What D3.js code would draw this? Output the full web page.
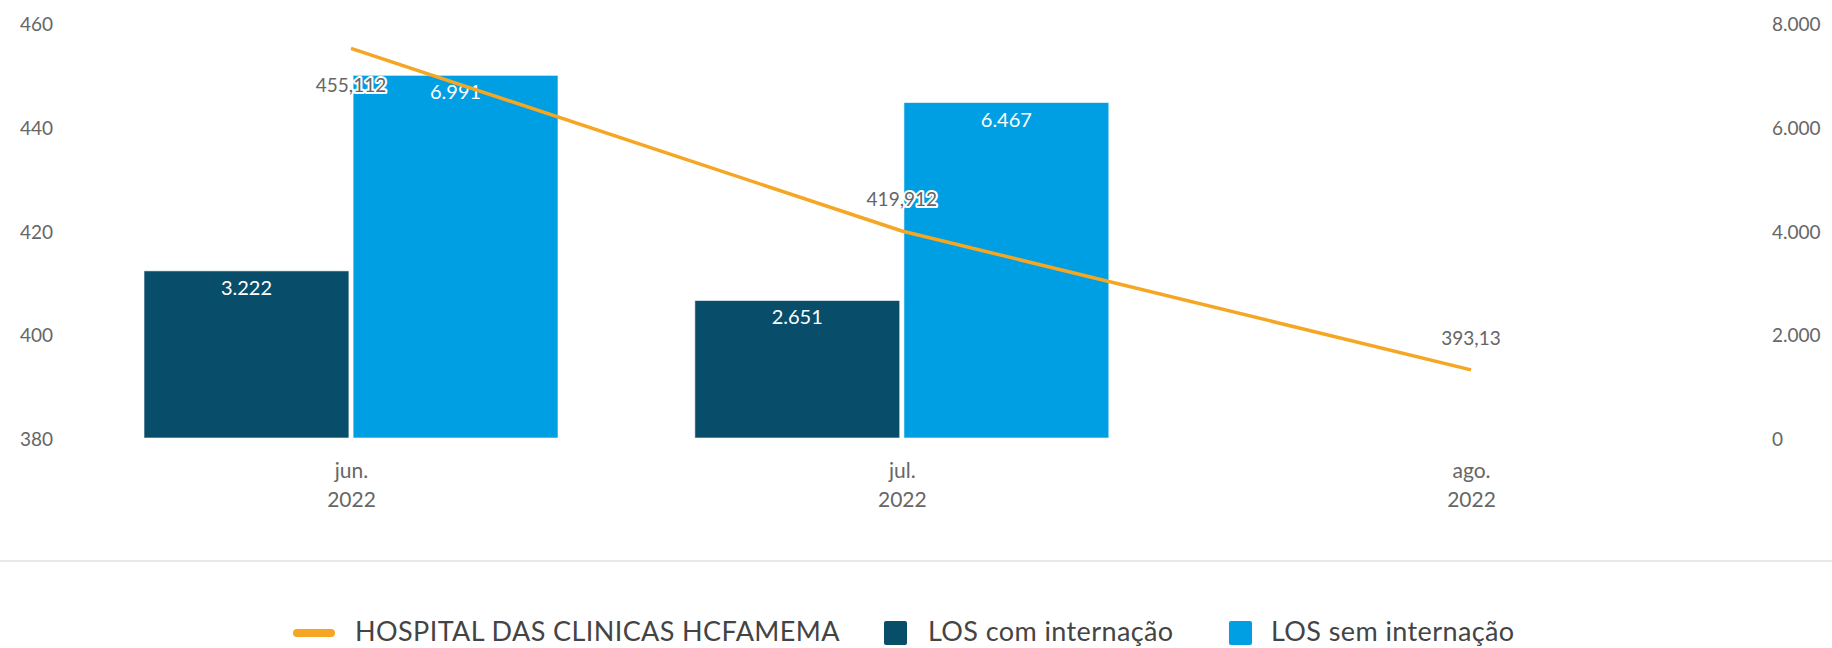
<!DOCTYPE html>
<html>
<head>
<meta charset="utf-8">
<script src="https://cdn.jsdelivr.net/npm/d3@7"></script>
<style>
  body { margin: 0; background: #fff; }
  text { font-family: Lato, "Open Sans", sans-serif; }
</style>
</head>
<body>
<svg class="combo-chart"></svg>
<script>
// months on the x axis
var months = ["2022-06-01", "2022-07-01", "2022-08-01"];
var monthLabels = ["jun.", "jul.", "ago."];
var yearLabels = ["2022", "2022", "2022"];

// line series (left axis)
var lineName = "HOSPITAL DAS CLINICAS HCFAMEMA";
var lineValues = [455.112, 419.912, 393.13];

// bar series (right axis), only jun and jul have data
var barSeries = ["LOS com internação", "LOS sem internação"];
var losCom = [3222, 2651];
var losSem = [6991, 6467];

var leftTicks = [380, 400, 420, 440, 460];
var rightTicks = [0, 2000, 4000, 6000, 8000];

var svgWidth = 1832, svgHeight = 648;
var colors = { line: "#f5a623", com: "#084e6b", sem: "#009fe3", text: "#666666" };

var parse = d3.timeParse("%Y-%m-%d");
var dates = months.map(parse);

var svg = d3.select("svg.combo-chart")
    .attr("width", svgWidth)
    .attr("height", svgHeight);

var x = d3.scaleTime().domain([dates[0], dates[2]]).range([351, 1471]),
    yLeft = d3.scaleLinear().domain([380, 460]).range([438, 23]),
    yRight = d3.scaleLinear().domain([0, 8000]).range([438, 23]);

// two bars side by side around each month
var inner = d3.scaleBand().domain(barSeries).range([-207, 207]).paddingInner(0.02);

var ptBR = d3.formatLocale({ decimal: ",", thousands: ".", grouping: [3], currency: ["R$", ""] });
var fmtInt = ptBR.format(",d");
var fmtDec = ptBR.format(",");

// left axis
var gl = svg.append("g")
    .attr("transform", "translate(53,0)")
    .call(d3.axisLeft(yLeft).tickValues(leftTicks).tickSize(0).tickPadding(0));
gl.select(".domain").remove();

// right axis
var gr = svg.append("g")
    .attr("transform", "translate(1772,0)")
    .call(d3.axisRight(yRight).tickValues(rightTicks).tickSize(0).tickPadding(0).tickFormat(fmtInt));
gr.select(".domain").remove();

svg.selectAll(".tick text")
    .attr("dy", "0.4em")
    .style("font-size", "19px")
    .style("fill", colors.text);

// x axis with two-line labels
var gx = svg.append("g")
    .attr("transform", "translate(0,438)")
    .call(d3.axisBottom(x).tickValues(dates).tickSize(0).tickFormat(""));
gx.select(".domain").remove();
gx.selectAll(".tick text").remove();
gx.selectAll(".tick").each(function (d, i) {
    var t = d3.select(this).append("text")
        .attr("text-anchor", "middle")
        .style("font-size", "21px")
        .style("fill", colors.text);
    t.append("tspan").attr("x", 0).attr("y", 40).text(monthLabels[i]);
    t.append("tspan").attr("x", 0).attr("y", 69).text(yearLabels[i]);
});

// bars
var barData = [];
losCom.forEach(function (v, i) { barData.push({ s: barSeries[0], d: dates[i], v: v, c: colors.com }); });
losSem.forEach(function (v, i) { barData.push({ s: barSeries[1], d: dates[i], v: v, c: colors.sem }); });

svg.append("g").selectAll("rect")
    .data(barData)
    .enter()
    .append("rect")
    .attr("x", function (d) { return x(d.d) + inner(d.s); })
    .attr("y", function (d) { return yRight(d.v); })
    .attr("width", inner.bandwidth())
    .attr("height", function (d) { return yRight(0) - yRight(d.v); })
    .attr("fill", function (d) { return d.c; })
    .attr("stroke", "rgba(255,255,255,0.6)")
    .attr("stroke-width", 1);

svg.append("g").selectAll("text")
    .data(barData)
    .enter()
    .append("text")
    .attr("x", function (d) { return x(d.d) + inner(d.s) + inner.bandwidth() / 2; })
    .attr("y", function (d) { return yRight(d.v) + 24; })
    .attr("text-anchor", "middle")
    .style("font-size", "20px")
    .style("fill", "#fff")
    .text(function (d) { return fmtInt(d.v); });

// line
var lineData = lineValues.map(function (v, i) { return { d: dates[i], v: v }; });

var line = d3.line()
    .x(function (d) { return x(d.d); })
    .y(function (d) { return yLeft(d.v); });

svg.append("path")
    .datum(lineData)
    .attr("d", line)
    .style("fill", "none")
    .style("stroke", colors.line)
    .style("stroke-width", 3.5);

// line labels with white halo, moved below when too close to the top
svg.append("g").selectAll("text")
    .data(lineData)
    .enter()
    .append("text")
    .attr("x", function (d) { return x(d.d); })
    .attr("y", function (d) {
        var py = yLeft(d.v);
        return (py - 32 < 60 ? py + 37 : py - 32) + 7;
    })
    .attr("text-anchor", "middle")
    .style("font-size", "19px")
    .style("fill", colors.text)
    .style("stroke", "#fff")
    .style("stroke-width", 4)
    .style("stroke-linejoin", "round")
    .style("paint-order", "stroke")
    .text(function (d) { return fmtDec(d.v); });

// separator above the legend
svg.append("line")
    .attr("x1", 0).attr("x2", svgWidth)
    .attr("y1", 561).attr("y2", 561)
    .style("stroke", "#e8e8e8")
    .style("stroke-width", 2);

// legend
var legend = svg.append("g").attr("transform", "translate(0,632)");

legend.append("line")
    .attr("x1", 297).attr("x2", 331)
    .attr("y1", 1).attr("y2", 1)
    .style("stroke", colors.line)
    .style("stroke-width", 8)
    .style("stroke-linecap", "round");
legend.append("text").attr("x", 355).attr("dy", "0.33em").text(lineName);

legend.append("rect").attr("x", 884).attr("y", -11).attr("width", 23).attr("height", 24).attr("rx", 2).attr("fill", colors.com);
legend.append("text").attr("x", 928).attr("dy", "0.33em").text(barSeries[0]);

legend.append("rect").attr("x", 1229).attr("y", -11).attr("width", 23).attr("height", 24).attr("rx", 2).attr("fill", colors.sem);
legend.append("text").attr("x", 1271).attr("dy", "0.33em").text(barSeries[1]);

legend.selectAll("text")
    .style("font-size", "27px")
    .style("letter-spacing", "0.4px")
    .style("fill", "#444");
</script>
</body>
</html>
